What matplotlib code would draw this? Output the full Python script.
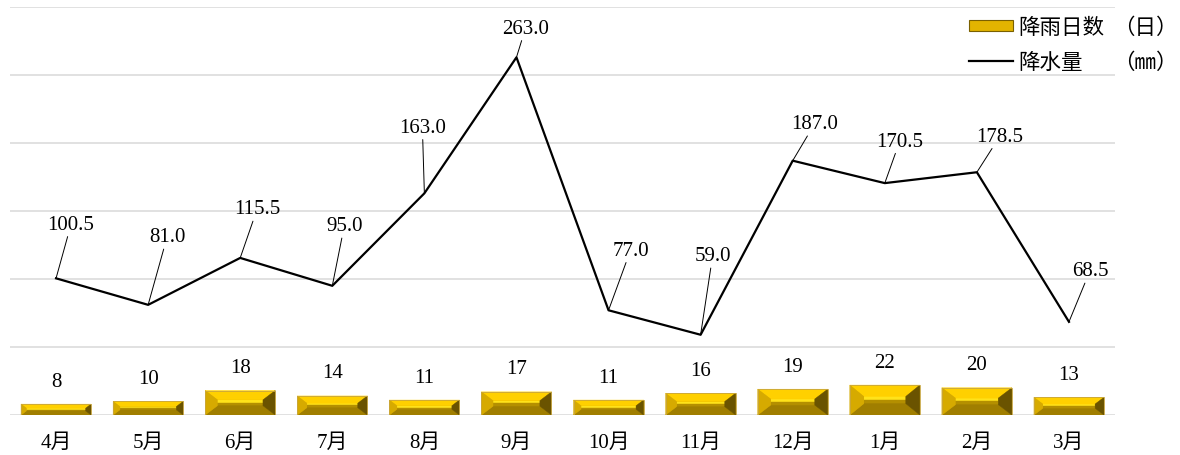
import matplotlib
matplotlib.use("Agg")
import matplotlib.pyplot as plt
from matplotlib.patches import Polygon, Patch
from matplotlib.lines import Line2D

plt.rcParams['font.family'] = ['Liberation Serif', 'Noto Sans CJK SC', 'DejaVu Sans']

months = ['4月', '5月', '6月', '7月', '8月', '9月', '10月', '11月', '12月', '1月', '2月', '3月']
rain_days = [8, 10, 18, 14, 11, 17, 11, 16, 19, 22, 20, 13]
rainfall = [100.5, 81.0, 115.5, 95.0, 163.0, 263.0, 77.0, 59.0, 187.0, 170.5, 178.5, 68.5]
series_names = ['降雨日数', '降水量']
series_units = ['（日）', '（㎜）']

# label offsets (pixels) for the rainfall labels
label_dx = [15, 19, 17, 12, -2, 9, 22, 12, 22, 15, 23, 21]
label_dy = [54, 68, 49, 60, 66, 29, 60, 79, 37, 42, 36, 51]

W, H = 1180, 456
fig = plt.figure(figsize=(W / 100, H / 100), dpi=100)
ax = fig.add_axes([10 / W, 40 / H, 1105 / W, 408 / H])
ax.set_xlim(-0.5, len(months) - 0.5)
ax.set_ylim(0, 300)
ax.set_yticks(range(0, 301, 50))
ax.set_yticklabels([])
ax.tick_params(axis='y', length=0)
ax.grid(axis='y', color='#D9D9D9', lw=1.1)
ax.set_axisbelow(True)
for s in ax.spines.values():
    s.set_visible(False)
ax.set_xticks(range(len(months)))
ax.set_xticklabels(months, fontsize=15)
ax.tick_params(axis='x', length=0, pad=13)

x = list(range(len(months)))
bars = ax.bar(x, rain_days, width=0.76, color='#D9AE00', edgecolor='none', zorder=2)

# bevel effect on the bars
to_pix = ax.transData
to_data = ax.transData.inverted()
for b in bars:
    (x0, y0), (x1, y1) = to_pix.transform([(b.get_x(), 0), (b.get_x() + b.get_width(), b.get_height())])
    h = y1 - y0
    bv = min(12, 0.38 * h)
    bh = min(14, max(4, 0.5 * h))
    ym = (y0 + bv + y1 - bv) / 2
    pieces = [
        ([(x0 + bh, y1 - bv), (x1 - bh, y1 - bv), (x1 - bh, ym), (x0 + bh, ym)], '#FFE21A'),
        ([(x0 + bh, ym), (x1 - bh, ym), (x1 - bh, y0 + bv), (x0 + bh, y0 + bv)], '#B48F00'),
        ([(x0, y1), (x1, y1), (x1 - bh, y1 - bv), (x0 + bh, y1 - bv)], '#FFD000'),
        ([(x0, y0), (x1, y0), (x1 - bh, y0 + bv), (x0 + bh, y0 + bv)], '#A07E00'),
        ([(x0, y0), (x0 + bh, y0 + bv), (x0 + bh, y1 - bv), (x0, y1)], '#D6AA00'),
        ([(x1, y0), (x1 - bh, y0 + bv), (x1 - bh, y1 - bv), (x1, y1)], '#6A5300'),
    ]
    for pts, c in pieces:
        ax.add_patch(Polygon(to_data.transform(pts), closed=True, facecolor=c,
                             edgecolor=c, lw=0.3, zorder=3))
    ax.add_patch(Polygon(to_data.transform([(x0, y0), (x1, y0), (x1, y1), (x0, y1)]),
                         closed=True, fill=False, edgecolor='#C8A640', lw=0.6, zorder=4))

for xi, d in zip(x, rain_days):
    ax.annotate(str(d), (xi, d), xytext=(0, 23), textcoords='offset pixels',
                ha='center', va='center', fontsize=15, zorder=5)

ax.plot(x, rainfall, color='black', lw=1.6, zorder=6)

for xi, v, dx, dy in zip(x, rainfall, label_dx, label_dy):
    ax.annotate(f'{v:.1f}', (xi, v), xytext=(dx, dy), textcoords='offset pixels',
                ha='center', va='center', fontsize=15, zorder=7,
                arrowprops=dict(arrowstyle='-', color='black', lw=0.7,
                                shrinkA=0, shrinkB=0))

cjk = ['Noto Sans CJK SC', 'DejaVu Sans']
handles = [Patch(facecolor='#E2B400', edgecolor='#7A6000', lw=0.8),
           Line2D([], [], color='black', lw=1.6)]
leg = fig.legend(handles, series_names, loc='upper left', bbox_to_anchor=(969 / W, 1 - 17 / H),
                 frameon=False, handlelength=2.05, handleheight=0.45,
                 handletextpad=0.25, labelspacing=0.6, borderpad=0, borderaxespad=0,
                 prop={'family': cjk, 'size': 15.5})

# unit column, aligned with the legend rows
fig.canvas.draw()
for t, unit in zip(leg.get_texts(), series_units):
    bb = t.get_window_extent()
    fig.text(1113 / W, (bb.y0 + bb.y1) / 2 / H, unit, ha='left', va='center',
             family=cjk, fontsize=15.5)

fig.savefig('out.png', dpi=100)
